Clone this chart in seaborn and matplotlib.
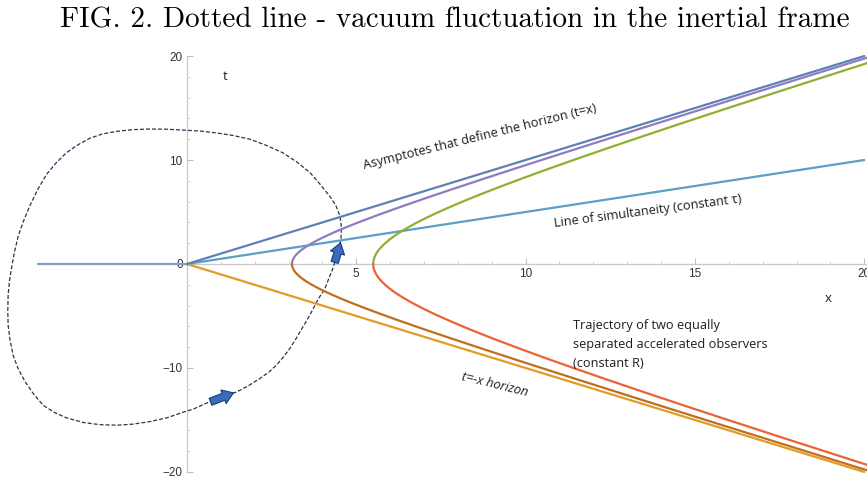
import numpy as np
import pandas as pd
import matplotlib
matplotlib.use("Agg")
import matplotlib.pyplot as plt
import seaborn as sns
from matplotlib.patches import FancyArrowPatch

# ---------------- data ----------------
asym_x = [0, 20]
asym_t = [0, 20]            # horizon t = x
neg_x = [0, 20]
neg_t = [0, -20]            # horizon t = -x
simul_x = [0, 20]
simul_t = [0, 10]           # line of simultaneity
left_x = [-4.4, 0]
left_t = [0, 0]
observer_x0 = [3.1, 5.5]    # vertex of each accelerated observer (constant R)
upper_colors = ["#8E7CC0", "#8FB032"]
lower_colors = ["#C06E1E", "#EB6235"]

# dashed "vacuum fluctuation" loop
loop_x = [4.37, 4.45, 4.55, 4.56, 4.52, 4.40, 4.22, 3.95, 3.63, 3.25, 2.83, 2.35,
          1.86, 1.38, 0.89, 0.40, -0.12, -0.60, -1.09, -1.60, -2.07, -2.50, -2.86,
          -3.20, -3.56, -3.87, -4.15, -4.40, -4.64, -4.83, -4.98, -5.09, -5.17,
          -5.24, -5.28, -5.29, -5.28, -5.22, -5.13, -4.98, -4.78, -4.53, -4.24,
          -3.90, -3.55, -3.05, -2.57, -2.07, -1.59, -1.09, -0.60, -0.11, 0.19,
          0.77, 1.10, 1.47, 1.82, 2.16, 2.42, 2.65, 2.86, 3.04, 3.20, 3.34, 3.48,
          3.63, 3.76, 3.88, 4.07, 4.20, 4.30, 4.37]
loop_t = [0.2, 1.2, 2.4, 3.5, 4.6, 5.6, 6.5, 7.6, 8.8, 9.8, 10.7, 11.4,
          12.0, 12.35, 12.6, 12.78, 12.88, 12.96, 12.98, 12.92, 12.76, 12.5, 12.1,
          11.5, 10.7, 9.7, 8.6, 7.2, 5.6, 4.1, 2.7, 1.2, -0.2,
          -1.6, -3.0, -4.5, -5.9, -7.4, -8.8, -10.1, -11.3, -12.5, -13.6,
          -14.3, -14.8, -15.25, -15.45, -15.5, -15.4, -15.15, -14.8, -14.25, -13.95,
          -13.1, -12.75, -12.3, -11.7, -11.0, -10.4, -9.7, -8.9, -8.1, -7.3, -6.5, -5.75,
          -4.9, -4.1, -3.35, -2.4, -1.3, -0.5, 0.2]

x_ticks = [5, 10, 15, 20]
y_ticks = [-20, -10, 0, 10, 20]
y_tick_labels = ["\u221220", "\u221210", "0", "10", "20"]

# ---------------- figure ----------------
sns.set_theme(style="white")
plt.rcParams["font.family"] = ["Liberation Sans", "DejaVu Sans"]

fig = plt.figure(figsize=(8.67, 4.78), dpi=100)
ax = fig.add_axes([0, 0, 1, (478 - 50) / 478])
ax.set_xlim(-5.52, 20.08)
ax.set_ylim(-20.58, 20.58)

lw = 1.6
# loop
loop = pd.DataFrame({"x": loop_x, "t": loop_t})
sns.lineplot(data=loop, x="x", y="t", sort=False, estimator=None, ax=ax,
             color="#2a3550", lw=0.9, linestyle=(0, (3.2, 1.6)))

# straight lines
for xs, ts, c in [(left_x, left_t, "#7FA0C8"), (simul_x, simul_t, "#5D9EC7"),
                  (neg_x, neg_t, "#E19C24")]:
    sns.lineplot(x=xs, y=ts, ax=ax, color=c, lw=lw, estimator=None)

# hyperbolas (constant-R observers)
for a, cu, cl in zip(observer_x0, upper_colors, lower_colors):
    t_up = np.linspace(0, 20.6, 220)
    hx = np.sqrt(t_up ** 2 + a ** 2)
    sns.lineplot(x=hx, y=t_up, sort=False, estimator=None, ax=ax, color=cu, lw=lw)
    sns.lineplot(x=hx, y=-t_up, sort=False, estimator=None, ax=ax, color=cl, lw=lw)

sns.lineplot(x=asym_x, y=asym_t, ax=ax, color="#5E81B5", lw=lw, estimator=None)

# axes through the origin
for s in ["top", "right"]:
    ax.spines[s].set_visible(False)
ax.spines["left"].set_position(("data", 0))
ax.spines["bottom"].set_position(("data", 0))
ax.spines["left"].set_bounds(-20, 20)
ax.spines["bottom"].set_bounds(-4.4, 20.08)
for s in ["left", "bottom"]:
    ax.spines[s].set_color("#c8c8c8")
    ax.spines[s].set_linewidth(0.9)
    ax.spines[s].set_zorder(0.5)

ax.set_xticks(x_ticks)
ax.set_yticks(y_ticks)
ax.set_xticks([v for v in range(1, 21) if v % 5], minor=True)
ax.set_yticks([v for v in range(-20, 21, 2) if v % 10], minor=True)
ax.tick_params(axis="both", which="major", direction="in", length=4, width=0.8,
               color="#c0c0c0", labelsize=8.5, labelcolor="#333333", pad=3)
ax.tick_params(axis="both", which="minor", direction="in", length=2.5, width=0.7,
               color="#d0d0d0")
ax.tick_params(axis="x", which="both", bottom=True)
ax.tick_params(axis="y", which="both", left=True)
ax.set_yticklabels(y_tick_labels)
ax.set_xlabel("")
ax.set_ylabel("")

# arrows on the loop
arrow_kw = dict(arrowstyle="simple,head_length=0.55,head_width=0.75,tail_width=0.38",
                mutation_scale=14, fc="#3A6BBE", ec="#1C3B75", lw=0.8, zorder=5)
ax.add_patch(FancyArrowPatch((4.34, -0.1), (4.56, 2.3), **arrow_kw))
ax.add_patch(FancyArrowPatch((0.62, -13.35), (1.45, -12.3), **arrow_kw))

# annotations
tf = ["Open Sans", "DejaVu Sans"]
tc = "#1e1e1e"
ax.text(1.12, 18.0, "t", family=tf, fontsize=9.5, color=tc, ha="center", va="center")
ax.text(18.93, -3.35, "x", family=tf, fontsize=9.5, color=tc, ha="center", va="center")
ax.text(8.65, 12.2, "Asymptotes that define the horizon (t=x)", family=tf, fontsize=9.2,
        rotation=13.9, rotation_mode="anchor", ha="center", va="center", color=tc)
ax.text(13.6, 5.1, "Line of simultaneity (constant \u03c4)", family=tf, fontsize=9.2,
        rotation=7.5, rotation_mode="anchor", ha="center", va="center", color=tc)
ax.text(11.4, -5.3, "Trajectory of two equally\nseparated accelerated observers\n(constant R)",
        family=tf, fontsize=9.2, ha="left", va="top", color=tc, linespacing=1.6)
ax.text(9.1, -11.6, "t=-x horizon", family=tf, fontsize=9.2, style="italic",
        rotation=-13.7, rotation_mode="anchor", ha="center", va="center", color=tc)

fig.text(0.525, 0.957, "FIG. 2. Dotted line - vacuum fluctuation in the inertial frame",
         family=["cmr10", "DejaVu Serif"], fontsize=21, ha="center", va="center", color="black")

fig.savefig("out.png", dpi=100)
